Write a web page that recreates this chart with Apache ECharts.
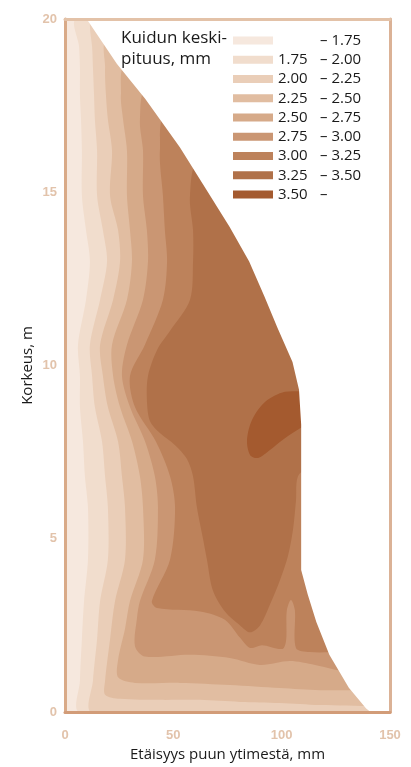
<!DOCTYPE html>
<html>
<head>
<meta charset="utf-8">
<title>Kuidun keskipituus</title>
<script src="https://cdn.jsdelivr.net/npm/echarts@6/dist/echarts.min.js"></script>
<style>
    html, body { margin: 0; padding: 0; background: #fff; }
    #main { width: 411px; height: 767px; }
</style>
</head>
<body>
<div id="main"></div>
<script>
    // luokkarajat (legend)
    var lowLabels  = ['', '1.75', '2.00', '2.25', '2.50', '2.75', '3.00', '3.25', '3.50'];
    var highLabels = ['1.75', '2.00', '2.25', '2.50', '2.75', '3.00', '3.25', '3.50', ''];
    var bandColors = ['#f6e8de', '#f1ddcd', '#eaceb8', '#e1bda1', '#d6aa89', '#ca9673', '#bd825b', '#b07149', '#a45a2f'];
    var xTicks = [0, 50, 100, 150];
    var yTicks = [0, 5, 10, 15, 20];

    // rungon ulkoreuna [mm, m], ylhäältä alas
    var stemEdge = [[10, 20], [24, 18.7], [37, 17.7], [53, 16.3], [67, 14.9], [76, 14], [85, 13], [92, 12],
        [98, 11.1], [105, 10.1], [108, 9.3], [109, 8.3], [109, 6.8], [109, 5], [109, 4.1], [112, 3.4],
        [116, 2.6], [122, 1.65], [131, 0.7], [139, 0.1], [141, 0]];

    // käyrät: alue >= raja, vasen/alareuna ylhäältä alas
    var c175 = [[5.5, 20], [6.5, 19.2], [6.9, 18.6], [6.9, 17.8], [7.4, 17.1], [7.8, 16.2], [7.8, 14.9], [9.7, 13.9],
        [11.5, 13], [9.7, 11.9], [6, 10.6], [6.9, 9.7], [6.9, 8.8], [8.3, 7.8], [9.2, 6.8], [10.6, 5.9],
        [10.6, 4.4], [8.8, 3.2], [7.8, 2.1], [6.9, 0.9], [6.9, 0]];
    var c200 = [[12.5, 20], [11.5, 19.8], [12.5, 19.2], [12.9, 18.6], [13.4, 17.8], [13.8, 17.1], [14.8, 16.2],
        [14.8, 14.9], [17.5, 13.9], [19.4, 13], [16.2, 11.9], [11.5, 10.6], [12.5, 9.7], [13.8, 8.8], [17.1, 7.8],
        [18.5, 6.8], [19.8, 5.9], [19.8, 4.4], [16.2, 3.2], [14.8, 2.1], [12.9, 0.9], [12.5, 0]];
    var c225 = [[19.8, 19.4], [18.5, 18.6], [18.9, 17.8], [19.8, 17.1], [21.7, 16.2], [20.8, 14.9], [24.5, 13.9],
        [25.4, 13], [22.2, 11.9], [16.2, 10.6], [17.5, 9.7], [19.8, 8.8], [24.5, 7.8], [26.3, 6.8], [27.7, 5.9],
        [27.7, 4.4], [23.1, 3.2], [20.8, 2.1], [18.5, 0.9], [18.5, 0.5], [25.4, 0.38], [43.8, 0.35], [62.3, 0.35],
        [80.8, 0.29], [99.2, 0.26], [117.7, 0.2], [143, 0.17]];
    var c250 = [[28.6, 18.7], [25.8, 17.8], [26.8, 17.1], [28.6, 16.2], [28.6, 14.9], [30, 13.9], [30.9, 13],
        [28.6, 11.9], [21.7, 10.6], [22.2, 9.7], [25.4, 8.8], [31, 7.8], [34.6, 6.8], [36, 5.9], [36, 4.4],
        [30, 3.2], [27.7, 2.4], [24.5, 1.5], [24.5, 1], [32.3, 0.84], [53.1, 0.84], [76.1, 0.78], [99.2, 0.69],
        [117.7, 0.63], [138, 0.63]];
    var c275 = [[38.3, 18], [34.6, 17.1], [36, 16.2], [36, 14.9], [37.8, 13.9], [38.3, 13], [36, 11.9], [28.6, 10.6],
        [26.3, 9.7], [30, 8.8], [37, 7.8], [41.5, 6.8], [42.9, 5.9], [41.5, 4.4], [34.6, 3.2], [33.2, 2.7],
        [32.3, 1.9], [36.9, 1.6], [57.7, 1.65], [76.1, 1.56], [90, 1.36], [103.8, 1.47], [115.4, 1.36], [133, 1.13]];
    var c300 = [[47.5, 17.3], [43.8, 16.2], [45.2, 14.9], [46.1, 13.9], [47.1, 13], [45.2, 11.9], [36.9, 10.6],
        [30, 9.7], [32.3, 8.8], [42, 7.8], [48.5, 6.8], [50.8, 5.9], [48.5, 4.4], [40.1, 3.2], [42.5, 3],
        [62.3, 2.9], [73.8, 2.66], [80.8, 2.14], [85.4, 1.85], [90.9, 1.93], [101, 1.85], [102.4, 2.94],
        [104.3, 3.23], [106.1, 2.94], [106.6, 1.85], [113, 1.73], [127, 1.73]];
    var c325 = [[62.3, 15.9], [57.7, 14.9], [59.1, 13.9], [59.1, 13], [57.7, 11.9], [48.5, 11], [42.5, 10.45],
        [38.3, 9.7], [37.8, 9], [39.2, 8.4], [43.8, 8.05], [50.8, 7.7], [56.3, 7.3], [59.1, 6.8], [60.9, 5.9],
        [63.7, 5], [65.5, 4.4], [68.3, 3.5], [73.8, 2.9], [80.8, 2.5], [85.4, 2.3], [90, 2.5], [94.6, 3.1],
        [99.2, 3.8], [102.9, 4.5], [105.2, 5.25], [106.6, 6.1], [107.5, 6.8], [113, 7.04]];
    var c350 = [[113, 9.24], [101.5, 9.24], [92.3, 8.95], [86.3, 8.43], [84, 7.85], [85.4, 7.42], [89.1, 7.33],
        [94.6, 7.56], [101.5, 7.9], [113, 8.28]];
    var contours = [c175, c200, c225, c250, c275, c300, c325, c350];

    var mychart = echarts.init(document.getElementById('main'));
    var font = 'Open Sans';
    var names = [];
    for (var i = 0; i < lowLabels.length; i++) {
        names.push(lowLabels[i] + '–' + highLabels[i]);
    }

    function closeRegion(c) {
        // suljetaan rungon ulkopuolelta, maski peittää ylimenevän osan
        return c.concat([[160, c[c.length - 1][1]], [160, c[0][1]]]);
    }

    function polySeries(name, pts, color, smooth) {
        return {
            type: 'custom',
            name: name,
            clip: true,
            itemStyle: { color: color },
            data: [[0, 0]],
            silent: true,
            renderItem: function (params, api) {
                return {
                    type: 'polygon',
                    shape: { points: pts.map(function (p) { return api.coord(p); }), smooth: smooth },
                    style: { fill: api.visual('color') }
                };
            }
        };
    }

    var series = [];
    series.push(polySeries(names[0], [[0, 20]].concat(stemEdge, [[0, 0]]), bandColors[0], 0));
    for (var k = 0; k < contours.length; k++) {
        series.push(polySeries(names[k + 1], closeRegion(contours[k]), bandColors[k + 1], 0.3));
    }
    // valkoinen maski rungon ulkopuolelle
    series.push(polySeries('mask', [[10, 21]].concat(stemEdge, [[141, -1], [160, -1], [160, 21]]), '#ffffff', 0));

    var axisLabel = { color: '#e2c3ab', fontWeight: 'bold', fontSize: 13, fontFamily: 'Liberation Sans' };

    var options = {
        animation: false,
        title: {
            text: 'Kuidun keski-\npituus, mm',
            left: 121, top: 28, padding: 0,
            textStyle: { fontSize: 17, fontWeight: 'normal', lineHeight: 21, color: '#1a1a1a', fontFamily: font }
        },
        legend: {
            orient: 'vertical', left: 233, top: 33, padding: 0,
            itemWidth: 40, itemHeight: 8, itemGap: 4.25,
            icon: 'rect', selectedMode: false,
            data: names,
            formatter: function (name) {
                var j = names.indexOf(name);
                return '{lo|' + (lowLabels[j] || ' ') + '}{hi|– ' + highLabels[j] + '}';
            },
            textStyle: {
                rich: {
                    lo: { width: 42, fontSize: 15, color: '#1a1a1a', fontFamily: font },
                    hi: { fontSize: 15, color: '#1a1a1a', fontFamily: font }
                }
            }
        },
        grid: { left: 65, right: 21, top: 19, bottom: 55, show: false },
        xAxis: [{
            type: 'value', min: xTicks[0], max: xTicks[xTicks.length - 1], interval: 50, z: 10,
            name: 'Etäisyys puun ytimestä, mm', nameLocation: 'middle', nameGap: 32,
            nameTextStyle: { fontSize: 15, color: '#1a1a1a', fontFamily: font },
            axisLine: { show: true, onZero: false, lineStyle: { color: '#d29c78', width: 3 } },
            axisTick: { show: false }, splitLine: { show: false },
            axisLabel: Object.assign({ margin: 17 }, axisLabel)
        }, {
            type: 'value', position: 'top', min: 0, max: 150, z: 10,
            axisLine: { show: true, onZero: false, lineStyle: { color: '#e3c2a8', width: 3 } },
            axisTick: { show: false }, splitLine: { show: false }, axisLabel: { show: false }
        }],
        yAxis: [{
            type: 'value', min: yTicks[0], max: yTicks[yTicks.length - 1], interval: 5, z: 10,
            name: 'Korkeus, m', nameLocation: 'middle', nameGap: 30, nameMoveOverlap: false,
            nameTextStyle: { fontSize: 15, color: '#1a1a1a', fontFamily: font },
            axisLine: { show: true, onZero: false, lineStyle: { color: '#d9aa88', width: 3 } },
            axisTick: { show: false }, splitLine: { show: false },
            axisLabel: Object.assign({ margin: 8 }, axisLabel)
        }, {
            type: 'value', position: 'right', min: 0, max: 20, z: 10,
            axisLine: { show: true, onZero: false, lineStyle: { color: '#dbb296', width: 3 } },
            axisTick: { show: false }, splitLine: { show: false }, axisLabel: { show: false }
        }],
        series: series
    };
    mychart.setOption(options);
</script>
</body>
</html>
